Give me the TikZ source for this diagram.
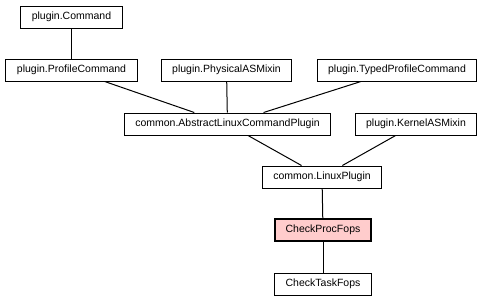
\documentclass[tikz,border=0pt]{standalone}
\usepackage{fontspec}
\setmainfont{Liberation Sans}
\usepackage{tikz}
\definecolor{focuscolor}{HTML}{FFCCCC}

\begin{document}
\begin{tikzpicture}[x=1pt,y=-1pt,
    cls/.style={draw,fill=white,line width=1pt,inner xsep=11pt,
                minimum height=22pt,font=\fontsize{10.5}{12}\selectfont},
    focus/.style={cls,fill=focuscolor,line width=2pt},
    edge/.style={line width=1pt}]
  \useasboundingbox (0,0) rectangle (485,301);
  % base classes
  \node[cls] (command)  at (71.5,17)  {plugin.Command};
  \node[cls] (profile)  at (71.5,70)  {plugin.ProfileCommand};
  \node[cls] (physical) at (226.5,70) {plugin.PhysicalASMixin};
  \node[cls] (typed)    at (397,70)   {plugin.TypedProfileCommand};
  \node[cls] (abstract) at (227.5,124) {common.AbstractLinuxCommandPlugin};
  \node[cls] (kernel)   at (416,124)  {plugin.KernelASMixin};
  \node[cls] (linux)    at (322,177)  {common.LinuxPlugin};
  % this class and its child
  \node[focus] (procfops) at (323,230) {CheckProcFops};
  \node[cls]   (taskfops) at (323,284) {CheckTaskFops};
  \draw[edge] (command) -- (profile);
  \draw[edge] (profile) -- (abstract);
  \draw[edge] (physical) -- (abstract);
  \draw[edge] (typed) -- (abstract);
  \draw[edge] (abstract) -- (linux);
  \draw[edge] (kernel) -- (linux);
  \draw[edge] (linux) -- (procfops);
  \draw[edge] (procfops) -- (taskfops);
\end{tikzpicture}
\end{document}
